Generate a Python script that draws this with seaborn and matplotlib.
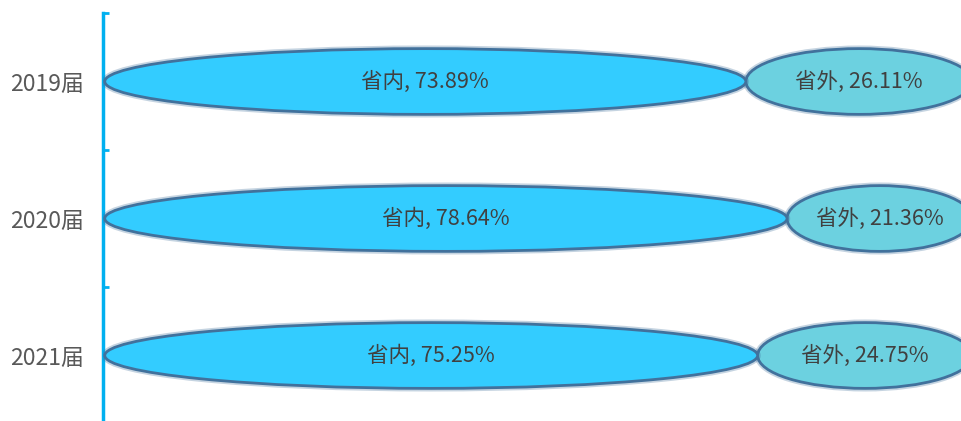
import matplotlib
matplotlib.use("Agg")
import pandas as pd
import matplotlib.pyplot as plt
import matplotlib.patheffects as pe
import seaborn as sns
from matplotlib.patches import Ellipse

# data
years = ['2019届', '2020届', '2021届']
inside = [73.89, 78.64, 75.25]
outside = [26.11, 21.36, 24.75]

sns.set_style('white')
plt.rcParams['font.family'] = ['Noto Sans CJK SC', 'DejaVu Sans']

df = pd.DataFrame({
    '届别': years,
    '省内': [v / 100 for v in inside],
    '合计': [(a + b) / 100 for a, b in zip(inside, outside)],
})

fig = plt.figure(figsize=(9.62, 4.21), dpi=100)
ax = fig.add_axes([103 / 962, -3 / 421, 1 - 103 / 962, 1 - 10 / 421])

# stacked bars via seaborn, then reshaped into ellipses
sns.barplot(data=df, x='合计', y='届别', color='#6CD1E0', width=0.48, ax=ax, orient='h')
sns.barplot(data=df, x='省内', y='届别', color='#33CCFF', width=0.48, ax=ax, orient='h')

bars = list(ax.patches)
n = len(years)
totals, inner = bars[:n], bars[n:]
for p in bars:
    p.remove()

edge_fx = [pe.Stroke(linewidth=4.5, foreground='#41719C', alpha=0.3), pe.Normal()]
for i in range(n):
    t, b = totals[i], inner[i]
    x0, w_in, w_tot = b.get_x() + 0.002, b.get_width(), t.get_width()
    yc = b.get_y() + b.get_height() / 2
    h = b.get_height()
    out = Ellipse((x0 + (w_in + w_tot) / 2, yc), w_tot - w_in, h,
                  facecolor='#6CD1E0', edgecolor='#41719C', linewidth=2, zorder=2)
    out.set_path_effects(edge_fx)
    ax.add_patch(out)
    ins = Ellipse((x0 + w_in / 2, yc), w_in, h,
                  facecolor='#33CCFF', edgecolor='#41719C', linewidth=2, zorder=3)
    ins.set_path_effects(edge_fx)
    ax.add_patch(ins)
    ax.text(x0 + w_in / 2, yc, f'省内, {inside[i]:.2f}%', ha='center', va='center',
            fontsize=15.5, color='#404040', zorder=4)
    ax.text(x0 + (w_in + w_tot) / 2, yc, f'省外, {outside[i]:.2f}%', ha='center', va='center',
            fontsize=15.5, color='#404040', zorder=4)

ax.set_xlim(0, 0.99)
ax.set_ylim(n - 0.5, -0.5)
ax.set_xlabel('')
ax.set_ylabel('')
ax.set_xticks([])

for s in ['top', 'right', 'bottom']:
    ax.spines[s].set_visible(False)
ax.spines['left'].set_color('#00B0F0')
ax.spines['left'].set_linewidth(2.5)

ax.set_yticks(range(n))
ax.set_yticklabels(years)
ax.tick_params(axis='y', which='major', left=True, length=0, pad=14, labelsize=16.5, labelcolor='#595959')
ax.set_yticks([i - 0.5 for i in range(n + 1)], minor=True)
ax.tick_params(axis='y', which='minor', left=True, direction='in', length=4.5, width=2, color='#00B0F0')

fig.savefig('out.png', dpi=100)
